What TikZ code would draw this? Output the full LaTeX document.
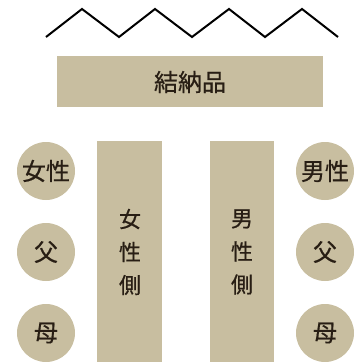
\documentclass[tikz,border=0pt]{standalone}
\usepackage{fontspec}
\newfontfamily\jp[FakeBold=0.6]{Noto Sans CJK JP}
\definecolor{tan}{RGB}{200,190,160}
\definecolor{ink}{RGB}{40,30,20}
\begin{document}
\begin{tikzpicture}[x=1pt,y=-1pt,
  box/.style={fill=tan,draw=none},
  circ/.style={circle,fill=tan,draw=none,minimum size=58pt,inner sep=0pt,font=\jp\fontsize{24}{24}\selectfont,text=ink},
  lbl/.style={font=\jp\fontsize{24}{24}\selectfont,text=ink,inner sep=0pt},
  vlbl/.style={font=\jp\fontsize{22}{33}\selectfont,text=ink,align=center,inner sep=0pt}]
\useasboundingbox (0,0) rectangle (355,362);
\begin{scope}
\clip (0,0) rectangle (355,362);
\draw[line width=2pt,line join=miter] (46,37) -- (82,9) -- (119,37) -- (155,9) -- (192,37) -- (229,9) -- (265,37) -- (302,9) -- (338,37);
\fill[box] (57,56) rectangle (323,107);
\node[lbl] (top) at (190,82) {結納品};
\fill[box] (97,141) rectangle (162,362);
\node[vlbl] (lside) at (130,252) {女\\性\\側};
\fill[box] (210,141) rectangle (274,362);
\node[vlbl] (rside) at (242,252) {男\\性\\側};
\node[circ] (l1) at (46,171) {女性};
\node[circ] (l2) at (46,252) {父};
\node[circ] (l3) at (46,333) {母};
\node[circ] (r1) at (325,171) {男性};
\node[circ] (r2) at (325,252) {父};
\node[circ] (r3) at (325,333) {母};
\end{scope}
\end{tikzpicture}
\end{document}
